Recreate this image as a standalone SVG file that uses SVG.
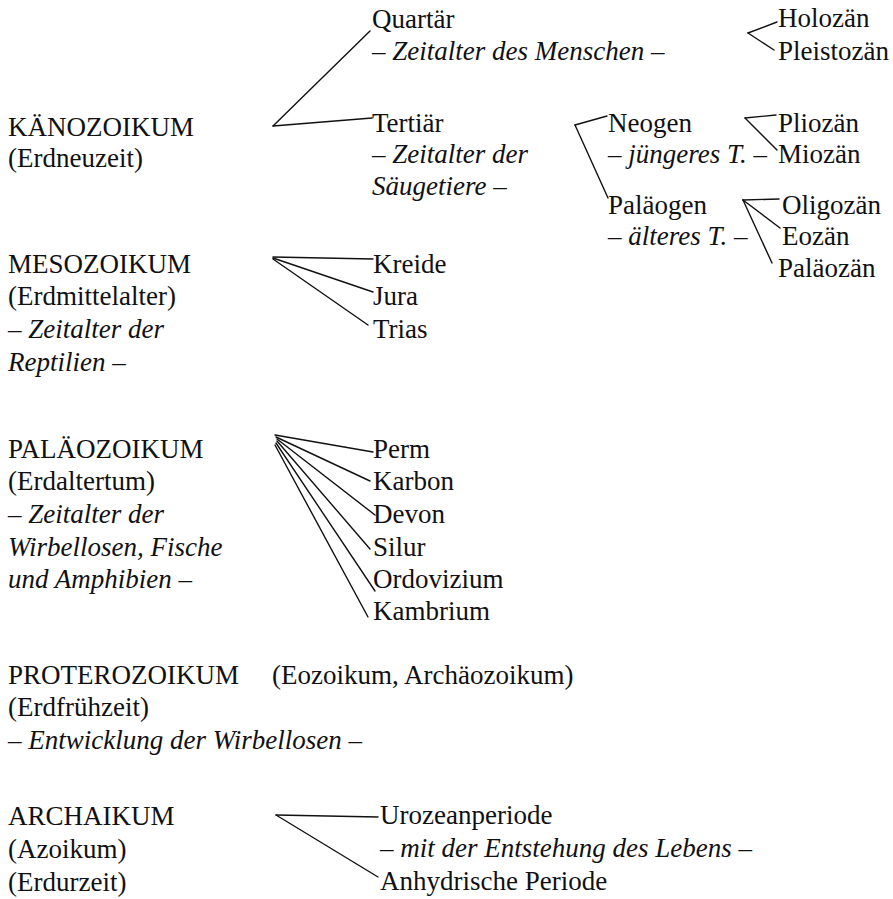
<svg xmlns="http://www.w3.org/2000/svg" width="893" height="899" viewBox="0 0 893 899">
<style>
text{font-family:"Liberation Serif","Times New Roman",serif;font-size:27px;fill:#111}
.i{font-style:italic}
.c line{stroke:#111;stroke-width:1.4;stroke-linecap:round}
</style>
<rect width="893" height="899" fill="#fff"/>
<g id="connectors" class="c">
<line x1="273" y1="126" x2="370" y2="31"/>
<line x1="273" y1="126" x2="372" y2="118"/>
<line x1="748" y1="33" x2="777" y2="22"/>
<line x1="748" y1="33" x2="774" y2="50"/>
<line x1="575" y1="125" x2="607" y2="116"/>
<line x1="575" y1="125" x2="608" y2="198"/>
<line x1="745" y1="118" x2="776" y2="115"/>
<line x1="745" y1="118" x2="777" y2="150"/>
<line x1="743" y1="200" x2="779" y2="199"/>
<line x1="743" y1="200" x2="780" y2="228"/>
<line x1="743" y1="200" x2="772" y2="263"/>
<line x1="273" y1="257" x2="373" y2="259"/>
<line x1="273" y1="258" x2="373" y2="292"/>
<line x1="273" y1="259" x2="368" y2="325"/>
<line x1="275" y1="435" x2="373" y2="452"/>
<line x1="276" y1="437" x2="370" y2="481"/>
<line x1="277" y1="439" x2="375" y2="515"/>
<line x1="277" y1="441" x2="370" y2="549"/>
<line x1="276" y1="443" x2="375" y2="591"/>
<line x1="275" y1="445" x2="368" y2="617"/>
<line x1="276" y1="815" x2="378" y2="817"/>
<line x1="276" y1="815" x2="378" y2="877"/>
</g>
<g id="kaenozoikum"><text x="8" y="136">KÄNOZOIKUM</text><text x="8" y="167">(Erdneuzeit)</text></g>
<g id="mesozoikum"><text x="8" y="273">MESOZOIKUM</text><text x="8" y="305">(Erdmittelalter)</text><text x="8" y="338" class="i">– Zeitalter der</text><text x="8" y="371" class="i">Reptilien –</text></g>
<g id="palaeozoikum"><text x="8" y="458">PALÄOZOIKUM</text><text x="8" y="490">(Erdaltertum)</text><text x="8" y="523" class="i">– Zeitalter der</text><text x="8" y="556" class="i">Wirbellosen, Fische</text><text x="8" y="588" class="i">und Amphibien –</text></g>
<g id="proterozoikum"><text x="8" y="684">PROTEROZOIKUM</text><text x="272" y="684">(Eozoikum, Archäozoikum)</text><text x="8" y="716">(Erdfrühzeit)</text><text x="8" y="749" class="i">– Entwicklung der Wirbellosen –</text></g>
<g id="archaikum"><text x="8" y="825">ARCHAIKUM</text><text x="8" y="858">(Azoikum)</text><text x="8" y="891">(Erdurzeit)</text></g>
<g id="quartaer"><text x="372" y="28">Quartär</text><text x="372" y="60" class="i">– Zeitalter des Menschen –</text></g>
<g id="tertiaer"><text x="372" y="132">Tertiär</text><text x="372" y="163" class="i">– Zeitalter der</text><text x="372" y="195" class="i">Säugetiere –</text></g>
<g id="holozaen"><text x="778" y="27">Holozän</text></g>
<g id="pleistozaen"><text x="778" y="60">Pleistozän</text></g>
<g id="neogen"><text x="608" y="132">Neogen</text><text x="608" y="163" class="i">– jüngeres T. –</text></g>
<g id="palaeogen"><text x="608" y="214">Paläogen</text><text x="608" y="245" class="i">– älteres T. –</text></g>
<g id="pliozaen"><text x="778" y="132">Pliozän</text></g>
<g id="miozaen"><text x="778" y="163">Miozän</text></g>
<g id="oligozaen"><text x="782" y="214">Oligozän</text></g>
<g id="eozaen"><text x="782" y="245">Eozän</text></g>
<g id="palaeozaen"><text x="778" y="277">Paläozän</text></g>
<g id="kreide"><text x="373" y="273">Kreide</text></g>
<g id="jura"><text x="373" y="305">Jura</text></g>
<g id="trias"><text x="373" y="338">Trias</text></g>
<g id="perm"><text x="373" y="458">Perm</text></g>
<g id="karbon"><text x="373" y="490">Karbon</text></g>
<g id="devon"><text x="373" y="523">Devon</text></g>
<g id="silur"><text x="373" y="556">Silur</text></g>
<g id="ordovizium"><text x="373" y="588">Ordovizium</text></g>
<g id="kambrium"><text x="373" y="620">Kambrium</text></g>
<g id="urozean"><text x="380" y="824">Urozeanperiode</text><text x="380" y="857" class="i">– mit der Entstehung des Lebens –</text></g>
<g id="anhydrisch"><text x="380" y="890">Anhydrische Periode</text></g>
</svg>
